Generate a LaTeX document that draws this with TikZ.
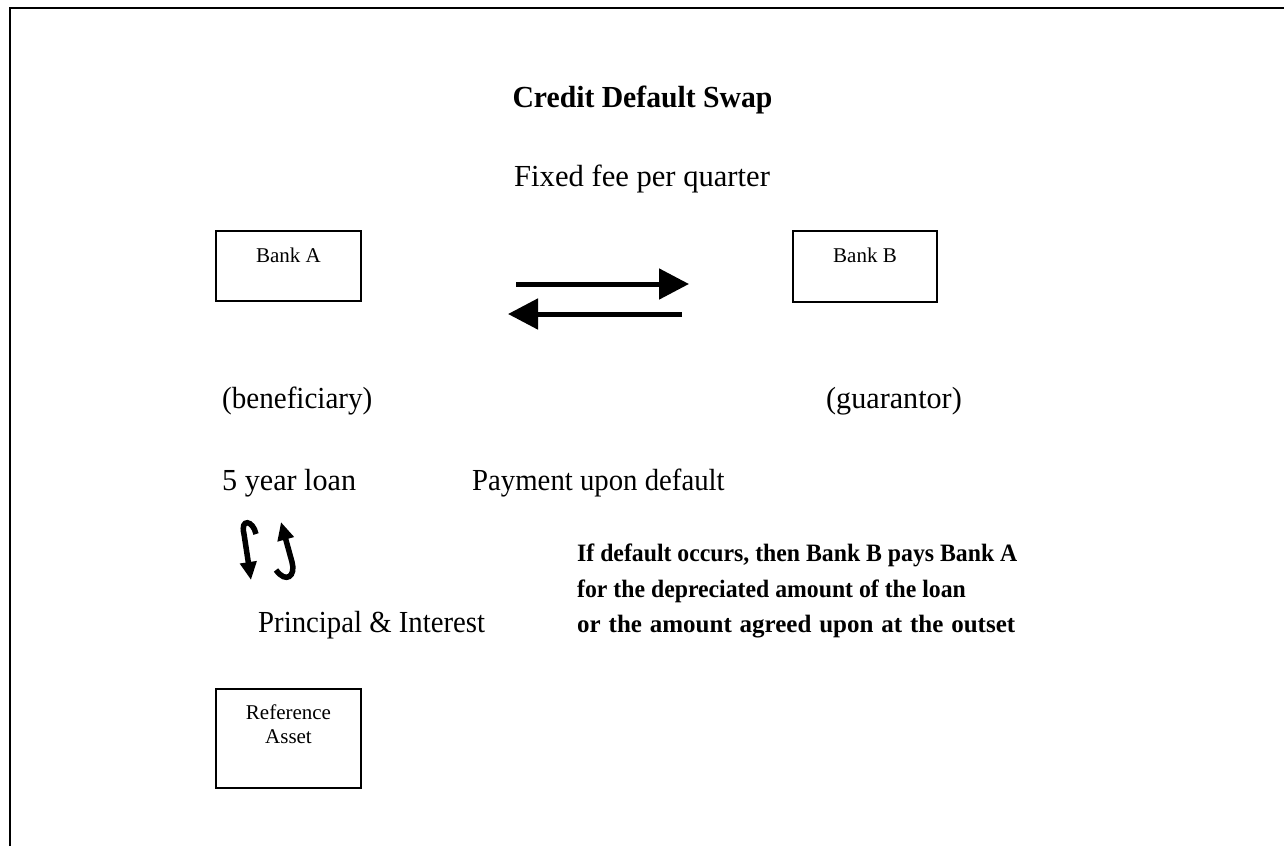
\documentclass[tikz,border=0pt]{standalone}
\usepackage{fontspec}
\setmainfont{Liberation Serif}
\usetikzlibrary{arrows.meta}
\begin{document}
\begin{tikzpicture}[x=1pt,y=-1pt,
  box/.style={draw, line width=2, rectangle, inner sep=0},
  boxtext/.style={font=\fontsize{21}{24}\selectfont, anchor=base, inner sep=0},
  txt/.style={font=\fontsize{30.6}{36}\selectfont, anchor=base west, inner sep=0},
  boldtxt/.style={font=\fontsize{25}{36}\selectfont\bfseries, anchor=base west, inner sep=0},
  flow/.style={line width=5, -{Triangle[length=30,width=30]}},
  curl/.style={line width=5.5, -{Triangle[length=18,width=16]}}]
\useasboundingbox (0,0) rectangle (1284,846);
% frame
\draw[line width=2] (10,846) -- (10,8) -- (1284,8);
% title
\node[font=\fontsize{30.6}{36}\selectfont\bfseries, anchor=base, inner sep=0] (title) at (642.5,107) {\scalebox{0.97}[1]{Credit Default Swap}};
% boxes
\node[box, minimum width=145, minimum height=70] (bankA) at (288.5,266) {};
\node[boxtext] (bankAtxt) at (288.5,262) {Bank A};
\node[box, minimum width=144, minimum height=71] (bankB) at (865,266.5) {};
\node[boxtext] (bankBtxt) at (865,262) {Bank B};
\node[box, minimum width=145, minimum height=99] (ref) at (288.5,738.5) {};
\node[boxtext] (reftxt1) at (288.5,719) {Reference};
\node[boxtext] (reftxt2) at (288.5,743) {Asset};
% texts
\node[txt] (fee) at (514,186) {Fixed fee per quarter};
\node[txt] (benef) at (222,408) {\scalebox{0.95}[1]{(beneficiary)}};
\node[txt] (guar) at (826,408) {\scalebox{0.985}[1]{(guarantor)}};
\node[txt] (loan) at (222,490) {\scalebox{0.985}[1]{5 year loan}};
\node[txt] (pay) at (472,490) {\scalebox{0.94}[1]{Payment upon default}};
\node[txt] (pi) at (258,632) {\scalebox{0.94}[1]{Principal \& Interest}};
\node[boldtxt] (b1) at (577,561) {\scalebox{0.95}[1]{If default occurs, then Bank B pays Bank A}};
\node[boldtxt] (b2) at (577,597) {\scalebox{0.95}[1]{for the depreciated amount of the loan}};
\node[boldtxt] (b3) at (577,632) {\makebox[438pt][s]{or the amount agreed upon at the outset}};
% exchange arrows
\coordinate (r0) at (516,284);
\coordinate (r1) at (689,284);
\coordinate (l0) at (682,314);
\coordinate (l1) at (508,314);
\draw[flow] (r0) -- (r1);
\draw[flow] (l0) -- (l1);
% curled arrows
\coordinate (c0) at (256,534);
\coordinate (c1) at (251,580);
\coordinate (d0) at (276,570);
\coordinate (d1) at (281,522);
\draw[curl] (c0) .. controls (253,520) and (240,518) .. (244,534) -- (c1);
\draw[curl] (d0) .. controls (286,584) and (296,576) .. (292,562) -- (d1);
\end{tikzpicture}
\end{document}
